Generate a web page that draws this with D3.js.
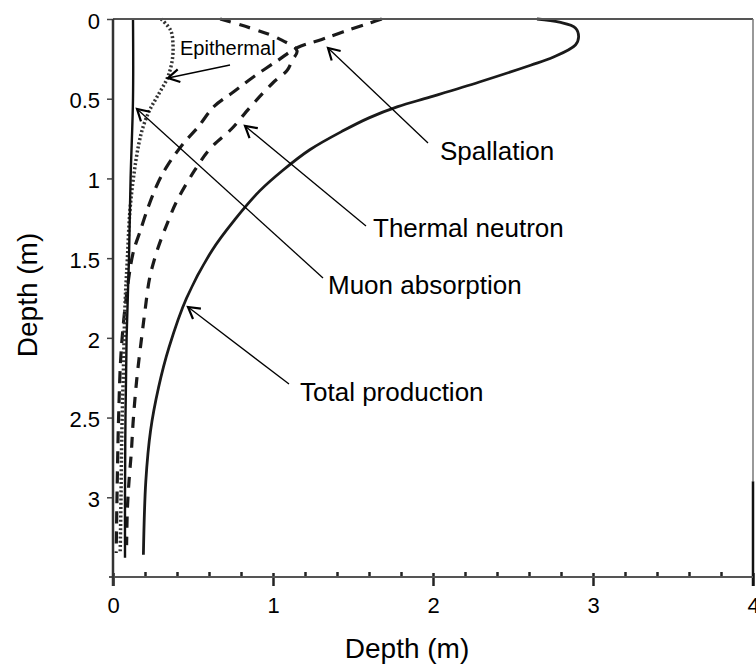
<!DOCTYPE html>
<html>
<head>
<meta charset="utf-8">
<script src="https://cdn.jsdelivr.net/npm/d3@7"></script>
<style>
  body { margin: 0; background: #fff; }
  text { font-family: "Liberation Sans", Arial, sans-serif; fill: #000; }
</style>
</head>
<body>
<svg id="chart" width="756" height="666"></svg>
<script>
// production profiles: value (x) against depth in m (y)
const totalDepth = [0, 0.02, 0.056, 0.113, 0.163, 0.24, 0.29, 0.395, 0.49, 0.55, 0.62, 0.7, 0.82, 0.95, 1.075, 1.26, 1.45, 1.75, 2.06, 2.31, 2.58, 2.9, 3.36];
const totalValue = [2.65, 2.79, 2.89, 2.91, 2.89, 2.75, 2.61, 2.29, 1.98, 1.78, 1.6, 1.44, 1.23, 1.06, 0.92, 0.76, 0.62, 0.46, 0.35, 0.285, 0.235, 0.205, 0.19];

const spallDepth = [0, 0.02, 0.08, 0.13, 0.18, 0.26, 0.365, 0.46, 0.55, 0.68, 0.78, 0.92, 1.03, 1.18, 1.33, 1.47, 1.77, 2.1, 2.5, 3.0, 3.35];
const spallValue = [1.68, 1.62, 1.44, 1.30, 1.15, 1.03, 0.875, 0.75, 0.63, 0.53, 0.44, 0.34, 0.28, 0.22, 0.17, 0.125, 0.08, 0.05, 0.035, 0.025, 0.02];

const thermalDepth = [0, 0.057, 0.12, 0.2, 0.26, 0.32, 0.4, 0.55, 0.69, 0.81, 0.95, 1.14, 1.28, 1.44, 1.62, 1.83, 1.99, 2.19, 2.35, 2.54, 2.71, 2.9, 3.07, 3.3];
const thermalValue = [0.67, 0.86, 1.03, 1.15, 1.12, 1.09, 1.0, 0.86, 0.74, 0.61, 0.51, 0.40, 0.34, 0.28, 0.23, 0.2, 0.18, 0.156, 0.14, 0.125, 0.115, 0.1, 0.09, 0.085];

const epiDepth = [0, 0.07, 0.16, 0.26, 0.37, 0.48, 0.57, 0.67, 0.79, 0.98, 1.2, 1.5, 1.8, 2.2, 2.6, 3.0, 3.35];
const epiValue = [0.30, 0.36, 0.375, 0.37, 0.34, 0.28, 0.23, 0.19, 0.16, 0.13, 0.106, 0.09, 0.075, 0.065, 0.055, 0.05, 0.045];

const muonDepth = [0, 0.5, 1.0, 1.5, 2.0, 2.5, 3.0, 3.38];
const muonValue = [0.125, 0.125, 0.11, 0.1, 0.085, 0.078, 0.075, 0.075];

const xTicks = [0, 1, 2, 3, 4];
const yTicks = [0, 0.5, 1, 1.5, 2, 2.5, 3];

const FONT = '"Liberation Sans", Arial, sans-serif';

const svg = d3.select('#chart');
const x = d3.scaleLinear().domain([0, 4]).range([113, 753]);
const y = d3.scaleLinear().domain([0, 3.5]).range([19, 577]);

// x axis: labelled integer ticks plus small inner ticks every 0.2
const gx = svg.append('g')
  .attr('transform', `translate(0,${y(3.5)})`)
  .call(d3.axisBottom(x).tickValues(xTicks).tickSize(9).tickPadding(11).tickFormat(d3.format('d')));
gx.attr('font-size', 22).attr('font-family', FONT);
gx.select('.domain').remove();
gx.selectAll('.tick line').attr('y1', -4).attr('stroke', '#222').attr('stroke-width', 2.5);

const minor = d3.range(1, 20).map(i => i * 0.2).filter(v => Math.abs(v - Math.round(v)) > 1e-6);
const gm = svg.append('g')
  .attr('transform', `translate(0,${y(3.5)})`)
  .call(d3.axisTop(x).tickValues(minor).tickSize(5).tickFormat(''));
gm.select('.domain').remove();
gm.selectAll('.tick line').attr('stroke', '#222').attr('stroke-width', 2.5);

// y axis
const gy = svg.append('g')
  .attr('transform', `translate(${x(0)},0)`)
  .call(d3.axisLeft(y).tickValues(yTicks).tickSize(6).tickPadding(7).tickFormat(d => d));
gy.attr('font-size', 22).attr('font-family', FONT);
gy.select('.domain').remove();
gy.selectAll('.tick line').attr('stroke', '#444').attr('stroke-width', 1.5);
gy.selectAll('.tick text').attr('dy', '0.42em');

// axis titles
svg.append('text')
  .attr('x', 407).attr('y', 658)
  .attr('text-anchor', 'middle').attr('font-size', 28)
  .text('Depth (m)');
svg.append('text')
  .attr('transform', 'translate(37,295) rotate(-90)')
  .attr('text-anchor', 'middle').attr('font-size', 28)
  .text('Depth (m)');

// curves
const series = [
  { depth: spallDepth, value: spallValue, width: 3.2, dash: '12,8', color: '#1a1a1a' },
  { depth: thermalDepth, value: thermalValue, width: 3.2, dash: '11,9', color: '#1a1a1a' },
  { depth: epiDepth, value: epiValue, width: 3.5, dash: '2,2.2', color: '#333' },
  { depth: muonDepth, value: muonValue, width: 2.4, dash: null, color: '#111' },
  { depth: totalDepth, value: totalValue, width: 2.8, dash: null, color: '#1a1a1a' }
];

const line = d3.line()
  .x(d => x(d[0]))
  .y(d => y(d[1]))
  .curve(d3.curveCatmullRom.alpha(0.5));

svg.append('g')
  .selectAll('path')
  .data(series)
  .join('path')
  .attr('fill', 'none')
  .attr('stroke', d => d.color)
  .attr('stroke-width', d => d.width)
  .attr('stroke-dasharray', d => d.dash)
  .attr('d', d => line(d.value.map((v, i) => [v, d.depth[i]])));

// labels with arrows pointing at the curves
const notes = [
  { text: 'Epithermal', size: 20, tx: 180, ty: 55, from: [230, 65], to: [168, 78] },
  { text: 'Spallation', size: 26, tx: 440, ty: 160, from: [428, 143], to: [328, 48] },
  { text: 'Thermal neutron', size: 26, tx: 373, ty: 237, from: [366, 226], to: [245, 126] },
  { text: 'Muon absorption', size: 26, tx: 328, ty: 294, from: [323, 278], to: [137, 109] },
  { text: 'Total production', size: 26, tx: 300, ty: 401, from: [289, 384], to: [188, 307] }
];

const ng = svg.append('g');
notes.forEach(n => {
  ng.append('text')
    .attr('x', n.tx).attr('y', n.ty)
    .attr('font-size', n.size)
    .text(n.text);
  ng.append('line')
    .attr('x1', n.from[0]).attr('y1', n.from[1])
    .attr('x2', n.to[0]).attr('y2', n.to[1])
    .attr('stroke', '#000').attr('stroke-width', 1.3);
  const ang = Math.atan2(n.from[1] - n.to[1], n.from[0] - n.to[0]);
  const len = 13, spread = Math.PI / 6;
  const p1 = [n.to[0] + len * Math.cos(ang - spread), n.to[1] + len * Math.sin(ang - spread)];
  const p2 = [n.to[0] + len * Math.cos(ang + spread), n.to[1] + len * Math.sin(ang + spread)];
  ng.append('path')
    .attr('d', `M${p1[0]},${p1[1]}L${n.to[0]},${n.to[1]}L${p2[0]},${p2[1]}`)
    .attr('fill', 'none')
    .attr('stroke', '#000').attr('stroke-width', 2.2);
});

// plot frame: lighter top and right edges, darker axes and lower right side
const edge = svg.append('g').attr('fill', 'none');
edge.append('path')
  .attr('d', `M${x(0)},${y(0)}H${x(4)}`)
  .attr('stroke', '#555').attr('stroke-width', 2);
edge.append('path')
  .attr('d', `M${x(4)},${y(0)}V${y(2.9)}`)
  .attr('stroke', '#777').attr('stroke-width', 1.5);
edge.append('path')
  .attr('d', `M${x(4)},${y(2.9)}V${y(3.5) + 9}`)
  .attr('stroke', '#111').attr('stroke-width', 2.5);
edge.append('path')
  .attr('d', `M${x(0) - 4},${y(3.5)}H${x(4)}`)
  .attr('stroke', '#555').attr('stroke-width', 2);
edge.append('path')
  .attr('d', `M${x(0)},${y(0)}V${y(3.5) + 9}`)
  .attr('stroke', '#333').attr('stroke-width', 2.5);
</script>
</body>
</html>
